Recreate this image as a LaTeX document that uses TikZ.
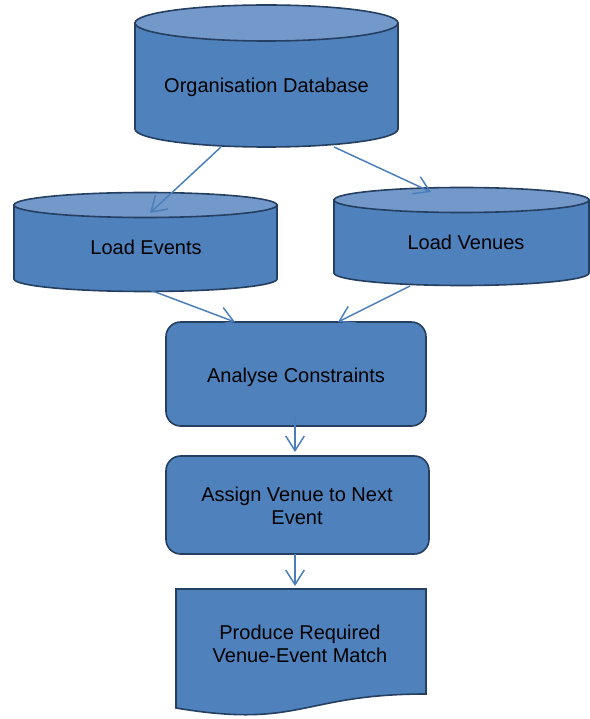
\documentclass[tikz,border=0pt]{standalone}
\usepackage{fontspec}
\setmainfont{Liberation Sans}
\usetikzlibrary{arrows.meta}
\definecolor{bodyblue}{RGB}{79,129,189}
\definecolor{capblue}{RGB}{115,153,202}
\definecolor{edgeblue}{RGB}{37,63,96}
\definecolor{arrowblue}{RGB}{74,126,187}
\tikzset{
  shapeline/.style={draw=edgeblue, line width=1.2pt, fill=bodyblue},
  capline/.style={draw=edgeblue, line width=1.2pt, fill=capblue},
  label/.style={font=\fontsize{15}{17.25}\selectfont, align=center, text=black},
  conn/.style={draw=arrowblue, line width=1.1pt, -{Straight Barb[length=11pt,width=14pt]}}
}
\begin{document}
\begin{tikzpicture}[x=0.75pt,y=0.75pt]
\useasboundingbox (0,0) rectangle (590,719);
% Organisation Database cylinder
\path[shapeline] (135,696) -- (135,590) arc (180:360:131.5 and 18) -- (398,696) -- cycle;
\path[capline] (266.5,696) ellipse (131.5 and 18);
\node[label] (org) at (266.5,632) {Organisation Database};
% Load Events cylinder
\path[shapeline] (14,514) -- (14,440) arc (180:360:131.5 and 12.5) -- (277,514) -- cycle;
\path[capline] (145.5,514) ellipse (131.5 and 12.5);
\node[label] (le) at (146,472) {Load Events};
% Load Venues cylinder
\path[shapeline] (334,519) -- (334,446) arc (180:360:127.5 and 12.5) -- (589,519) -- cycle;
\path[capline] (461.5,519) ellipse (127.5 and 12.5);
\node[label] (lv) at (466,477) {Load Venues};
% Analyse Constraints
\path[shapeline, rounded corners=11pt] (166,293) rectangle (426,397);
\node[label] (ac) at (296,342) {Analyse Constraints};
% Assign Venue
\path[shapeline, rounded corners=11pt] (166,165) rectangle (429,263);
\node[label] (av) at (297,213) {Assign Venue to Next\\Event};
% Produce document
\path[shapeline] (176,130) -- (426,130) -- (426,25) .. controls (301,25) and (301,-10) .. (176,11) -- cycle;
\node[label] (pr) at (300,75) {Produce Required\\Venue-Event Match};
% connector end points
\coordinate (orgL) at (221,572);
\coordinate (orgR) at (334,572);
\coordinate (leTop) at (150,506);
\coordinate (lvTop) at (431,527);
\coordinate (leBot) at (150,429);
\coordinate (lvBot) at (410,433);
\coordinate (acInL) at (235,397);
\coordinate (acInR) at (338,397);
\coordinate (acBot) at (295,302);
\coordinate (avTop) at (295,267);
\coordinate (avBot) at (295,165);
\coordinate (prTop) at (295,133);
\draw[conn] (orgL) -- (leTop);
\draw[conn] (orgR) -- (lvTop);
\draw[conn] (leBot) -- (acInL);
\draw[conn] (lvBot) -- (acInR);
\draw[conn] (acBot) -- (avTop);
\draw[conn] (avBot) -- (prTop);
\end{tikzpicture}
\end{document}
